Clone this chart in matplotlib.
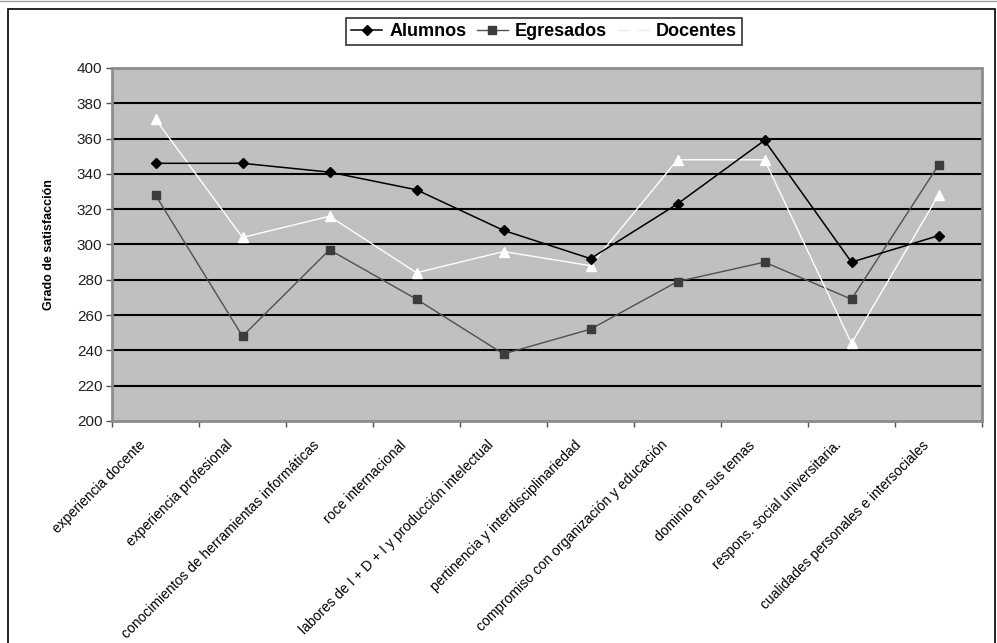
import matplotlib.pyplot as plt
from matplotlib.patches import Rectangle
from matplotlib.lines import Line2D
from matplotlib.transforms import ScaledTranslation
import numpy as np

# competencias evaluadas y puntajes por grupo
categorias = ["experiencia docente", "experiencia profesional",
              "conocimientos de herramientas informáticas", "roce internacional",
              "labores de I + D + I y producción intelectual",
              "pertinencia y interdisciplinariedad",
              "compromiso con organización y educación", "dominio en sus temas",
              "respons. social universitaria.",
              "cualidades personales e intersociales"]
alumnos = [346, 346, 341, 331, 308, 292, 323, 359, 290, 305]
egresados = [328, 248, 297, 269, 238, 252, 279, 290, 269, 345]
docentes = [371, 304, 316, 284, 296, 288, 348, 348, 244, 328]
y_ticks = [200, 220, 240, 260, 280, 300, 320, 340, 360, 380, 400]

plt.rcParams['font.family'] = ['Liberation Sans', 'DejaVu Sans']

W, H = 997, 643
fig = plt.figure(figsize=(W / 100, H / 100), dpi=100)
fig.patch.set_facecolor('white')

# marco exterior del grafico
fig.add_artist(Rectangle((8 / W, -0.01), (995 - 8) / W, 1 - 9 / H + 0.01,
                         transform=fig.transFigure, fill=False,
                         edgecolor='black', lw=1.2))
fig.add_artist(Line2D([0, 1], [1 - 0.5 / H, 1 - 0.5 / H],
                      transform=fig.transFigure, color='#a0a0a0', lw=1))

ax = fig.add_axes([112 / W, 1 - 421 / H, (982 - 112) / W, (421 - 68) / H])
ax.set_facecolor('#c0c0c0')

x = np.arange(len(categorias))
ax.plot(x, alumnos, color='black', lw=1.1, marker='D', markersize=5,
        markerfacecolor='black', markeredgecolor='black', label='Alumnos', zorder=4)
ax.plot(x, egresados, color='#505050', lw=1.0, marker='s', markersize=5.5,
        markerfacecolor='#3c3c3c', markeredgecolor='#3c3c3c', label='Egresados', zorder=3)
ax.plot(x, docentes, color='white', lw=1.0, marker='^', markersize=7,
        markerfacecolor='white', markeredgecolor='white', label='Docentes', zorder=3)

ax.set_xlim(-0.5, len(categorias) - 0.5)
ax.set_ylim(200, 400)
ax.set_yticks(y_ticks)
ax.tick_params(axis='y', labelsize=11, length=4, width=1, color='#505050',
               pad=3, labelcolor='#202020')
for v in y_ticks[1:-1]:
    ax.axhline(v, color='black', lw=1.5, zorder=1)

# marcas entre categorias, etiquetas en el centro
ax.set_xticks(np.arange(len(categorias) + 1) - 0.5)
ax.set_xticklabels([])
ax.tick_params(axis='x', which='major', length=4, width=1, color='#505050')
ax.set_xticks(x, minor=True)
ax.set_xticklabels(categorias, minor=True, rotation=45, ha='right', va='center',
                   rotation_mode='anchor', fontsize=10)
ax.tick_params(axis='x', which='minor', length=0, pad=0)
off = ScaledTranslation(-12 / 100, -22 / 100, fig.dpi_scale_trans)
for lbl in ax.get_xticklabels(minor=True):
    lbl.set_transform(lbl.get_transform() + off)

for s in ax.spines.values():
    s.set_color('#8c8c8c')
    s.set_linestyle((0, (1, 1)))
    s.set_linewidth(2)

ax.set_ylabel('Grado de satisfacción', fontsize=9, fontweight='bold', labelpad=16)

leg = fig.legend(loc='center', bbox_to_anchor=(544 / W, 1 - 31.5 / H), ncol=3,
                 prop={'weight': 'bold', 'size': 13}, frameon=True, fancybox=False,
                 handlelength=1.7, handletextpad=0.4, columnspacing=0.6,
                 borderpad=0.3, borderaxespad=0)
leg.get_frame().set_edgecolor('black')
leg.get_frame().set_linewidth(1.2)
# el blanco de Docentes apenas se distingue sobre el fondo de la leyenda
leg.legend_handles[2].set_color('#ececec')

fig.savefig('out.png', dpi=100)
